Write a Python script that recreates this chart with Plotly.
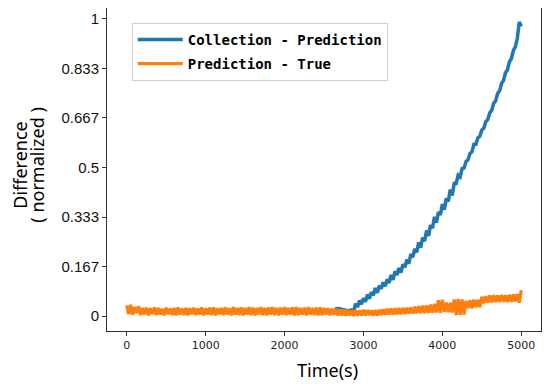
import plotly.graph_objects as go

# ---- data ----
time_orange = list(range(0, 5001, 25))
pred_true = [
    0.036, 0.006, 0.038, 0.004, 0.030, 0.010, 0.033, 0.003, 0.027, 0.006,
    0.028, 0.002, 0.026, 0.007, 0.029, 0.003, 0.027, 0.005, 0.024, 0.002,
    0.028, 0.006, 0.025, 0.003, 0.027, 0.002, 0.029, 0.005, 0.025, 0.003,
    0.027, 0.002, 0.026, 0.006, 0.028, 0.003, 0.025, 0.005, 0.029, 0.002,
    0.026, 0.005, 0.028, 0.003, 0.029, 0.002, 0.026, 0.006, 0.027, 0.003,
    0.029, 0.005, 0.026, 0.002, 0.030, 0.005, 0.027, 0.003, 0.029, 0.002,
    0.027, 0.005, 0.030, 0.003, 0.028, 0.002, 0.027, 0.005, 0.030, 0.003,
    0.027, 0.002, 0.029, 0.005, 0.030, 0.003, 0.027, 0.002, 0.028, 0.005,
    0.030, 0.003, 0.027, 0.005, 0.029, 0.002, 0.030, 0.003, 0.027, 0.005,
    0.028, 0.002, 0.030, 0.005, 0.027, 0.003, 0.028, 0.002, 0.029, 0.003,
    0.027, 0.005, 0.026, 0.002, 0.025, 0.004, 0.024, 0.002, 0.023, 0.002,
    0.022, 0.001, 0.021, 0.002, 0.019, 0.000, 0.020, 0.001, 0.019, 0.002,
    0.021, 0.002, 0.020, 0.003, 0.019, 0.001, 0.020, 0.002, 0.021, 0.003,
    0.023, 0.004, 0.024, 0.005, 0.025, 0.005, 0.026, 0.006, 0.027, 0.006,
    0.027, 0.007, 0.028, 0.008, 0.029, 0.008, 0.031, 0.009, 0.033, 0.010,
    0.035, 0.010, 0.036, 0.011, 0.038, 0.011, 0.041, 0.012, 0.053, 0.011,
    0.055, 0.014, 0.045, 0.013, 0.044, 0.012, 0.056, 0.003, 0.057, 0.004,
    0.056, 0.005, 0.051, 0.027, 0.053, 0.026, 0.055, 0.029, 0.054, 0.030,
    0.065, 0.043, 0.067, 0.045, 0.069, 0.046, 0.070, 0.047, 0.069, 0.047,
    0.071, 0.048, 0.070, 0.047, 0.072, 0.048, 0.073, 0.049, 0.074, 0.045,
    0.087,
]

time_blue = list(range(2650, 5001, 25))
coll_pred = [
    0.030, 0.012, 0.028, 0.010, 0.025, 0.008, 0.022, 0.006, 0.024, 0.014,
    0.042, 0.030, 0.052, 0.040, 0.060, 0.048, 0.072, 0.058, 0.080, 0.070,
    0.094, 0.078, 0.102, 0.092, 0.114, 0.100, 0.123, 0.112, 0.138, 0.122,
    0.150, 0.138, 0.162, 0.146, 0.174, 0.164, 0.190, 0.176, 0.208, 0.198,
    0.226, 0.214, 0.248, 0.230, 0.264, 0.252, 0.288, 0.270, 0.306, 0.296,
    0.334, 0.314, 0.350, 0.340, 0.377, 0.358, 0.396, 0.386, 0.426, 0.406,
    0.446, 0.446, 0.474, 0.468, 0.496, 0.498, 0.520, 0.526, 0.547, 0.553,
    0.578, 0.578, 0.600, 0.605, 0.626, 0.632, 0.654, 0.661, 0.684, 0.692,
    0.716, 0.724, 0.749, 0.758, 0.783, 0.793, 0.819, 0.829, 0.856, 0.867,
    0.894, 0.906, 0.935, 0.990, 0.975,
]

x_ticks = [0, 1000, 2000, 3000, 4000, 5000]
y_ticks = [0, 1/6, 2/6, 3/6, 4/6, 5/6, 1]
y_tick_labels = ["0", "0.167", "0.333", "0.5", "0.667", "0.833", "1"]

fig = go.Figure()
fig.add_trace(go.Scatter(
    x=time_blue, y=coll_pred, mode="lines", name="Collection - Prediction",
    legendgroup="a", line=dict(color="#1f77b4", width=3.5),
))
fig.add_trace(go.Scatter(
    x=time_orange, y=pred_true, mode="lines", name="Prediction - True",
    legendgroup="b", line=dict(color="#ff7f0e", width=3.2),
))

# page body has an 8px margin, so the figure is sized to fit the window
fig.update_layout(
    width=542, height=376,
    margin=dict(l=99, r=9, t=0, b=53),
    paper_bgcolor="white", plot_bgcolor="white",
    showlegend=True,
    legend=dict(
        x=0.057, y=0.954, xanchor="left", yanchor="top",
        bgcolor="rgba(255,255,255,0.9)", bordercolor="#d0d0d0", borderwidth=1,
        font=dict(family="DejaVu Sans Mono", size=14, color="black", weight="bold"),
        tracegroupgap=3, itemwidth=45,
    ),
    xaxis=dict(
        range=[-250, 5250], tickvals=x_ticks, ticks="outside", ticklen=4,
        tickcolor="#333", showline=True, linecolor="#333", linewidth=1,
        mirror=True, showgrid=False, zeroline=False, automargin=False,
        tickfont=dict(family="DejaVu Sans", size=11, color="#222"),
    ),
    yaxis=dict(
        range=[-0.0505, 1.037], tickvals=y_ticks, ticktext=y_tick_labels,
        ticks="outside", ticklen=4, tickcolor="#333",
        showline=True, linecolor="#333", linewidth=1, mirror=True,
        showgrid=False, zeroline=False, automargin=False,
        tickfont=dict(family="Liberation Sans", size=15, color="#111"),
    ),
    annotations=[
        dict(
            text="Difference", textangle=-90,
            xref="paper", yref="paper", x=-0.201, y=0.514,
            xanchor="center", yanchor="middle", showarrow=False,
            font=dict(family="Noto Sans", size=18, color="black"),
        ),
        dict(
            text="( normalized )", textangle=-90,
            xref="paper", yref="paper", x=-0.162, y=0.514,
            xanchor="center", yanchor="middle", showarrow=False,
            font=dict(family="Noto Sans", size=18, color="black"),
        ),
        dict(
            text="Time(s)",
            xref="paper", yref="paper", x=0.507, y=-0.121,
            xanchor="center", yanchor="middle", showarrow=False,
            font=dict(family="Noto Sans", size=18, color="black"),
        ),
    ],
)

fig.write_html("out.html")
